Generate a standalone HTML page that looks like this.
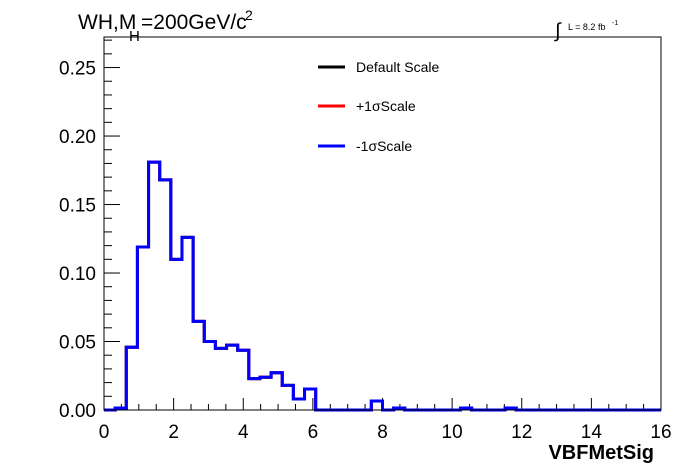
<!DOCTYPE html>
<html><head><meta charset="utf-8"><style>
body{margin:0;background:#fff;}
svg{display:block;font-family:"Liberation Sans",Arial,sans-serif;}
</style></head><body>
<svg id="chart" width="696" height="472" viewBox="0 0 696 472">
<rect x="0" y="0" width="696" height="472" fill="#fff"/>
<g id="ticks"></g>
<g id="hists"></g>
<rect x="104" y="37" width="557" height="373" fill="none" stroke="#000" stroke-width="1"/>
<text x="78" y="29" font-size="21">WH,M</text>
<text x="129" y="41" font-size="15">H</text>
<text x="141" y="29" font-size="21">=200GeV/c</text>
<text x="245" y="20" font-size="14">2</text>
<text x="555" y="37" font-size="20">∫</text>
<text x="568" y="30" font-size="9">L = 8.2 fb</text>
<text x="612" y="25" font-size="7">-1</text>
<g>
<line x1="318" y1="67" x2="345" y2="67" stroke="#000" stroke-width="3"/>
<text x="356" y="72" font-size="14">Default Scale</text>
<line x1="318" y1="106" x2="345" y2="106" stroke="#ff0000" stroke-width="3"/>
<text x="356" y="111" font-size="14">+1σScale</text>
<line x1="318" y1="146" x2="345" y2="146" stroke="#0000ff" stroke-width="3"/>
<text x="356" y="151" font-size="14">-1σScale</text>
</g>
<text x="654" y="459" font-size="20" font-weight="bold" text-anchor="end">VBFMetSig</text>
</svg>
<script>
const binEdgesMin = 0, binEdgesMax = 16, nBins = 50;
const defaultValues = [0,0.0015,0.0458,0.119,0.181,0.168,0.110,0.126,0.0647,0.050,0.045,0.0474,0.0436,0.0229,0.0239,0.0272,0.018,0.008,0.0153,0,0,0,0,0,0.0066,0,0.0015,0,0,0,0,0,0.0015,0,0,0,0.0015,0,0,0,0,0,0,0,0,0,0,0,0,0];
const plusValues = defaultValues.slice();
const minusValues = defaultValues.slice();
const xTickLabels = ["0","2","4","6","8","10","12","14","16"];
const yTickLabels = ["0.00","0.05","0.10","0.15","0.20","0.25"];
const X0=104,X1=661,Y0=410,Y1=37,YMAX=0.2723;
const sx=v=>X0+(v-binEdgesMin)/(binEdgesMax-binEdgesMin)*(X1-X0);
const sy=v=>Y0-v/YMAX*(Y0-Y1);
const NS="http://www.w3.org/2000/svg";
const tg=document.getElementById('ticks');
function ln(x1,y1,x2,y2){const l=document.createElementNS(NS,'line');l.setAttribute('x1',x1);l.setAttribute('y1',y1);l.setAttribute('x2',x2);l.setAttribute('y2',y2);l.setAttribute('stroke','#000');l.setAttribute('stroke-width','1');


tg.appendChild(l);}
function tx(x,y,s,anchor){const t=document.createElementNS(NS,'text');t.setAttribute('x',x);t.setAttribute('y',y);t.setAttribute('font-size','19');t.setAttribute('text-anchor',anchor);t.textContent=s;


tg.appendChild(t);}
for(let v=0;v<=16.001;v+=0.5){const x=sx(v);const major=Math.abs(v/2-Math.round(v/2))<1e-6;ln(x,Y0,x,Y0-(major?12:6));}
xTickLabels.forEach(s=>tx(sx(parseFloat(s)),438,s,'middle'));
for(let i=0;i*0.01<=YMAX;i++){const y=sy(i*0.01);ln(X0,y,X0+(i%5==0?16:8),y);}
yTickLabels.forEach(s=>tx(96,sy(parseFloat(s))+7,s,'end'));
const hg=document.getElementById('hists');
function hist(vals,color,name){let d='';const w=(binEdgesMax-binEdgesMin)/nBins;
vals.forEach((v,i)=>{const xa=sx(binEdgesMin+i*w),xb=sx(binEdgesMin+(i+1)*w),y=sy(v);d+=(i==0?'M'+xa+','+y:'L'+xa+','+y)+'L'+xb+','+y;});
const p=document.createElementNS(NS,'path');p.setAttribute('d',d);p.setAttribute('fill','none');p.setAttribute('stroke',color);p.setAttribute('stroke-width','3');


hg.appendChild(p);}
hist(defaultValues,'#000','hist-default-scale');
hist(plusValues,'#ff0000','hist-plus-1sigma');
hist(minusValues,'#0000ff','hist-minus-1sigma');
</script>
</body></html>
